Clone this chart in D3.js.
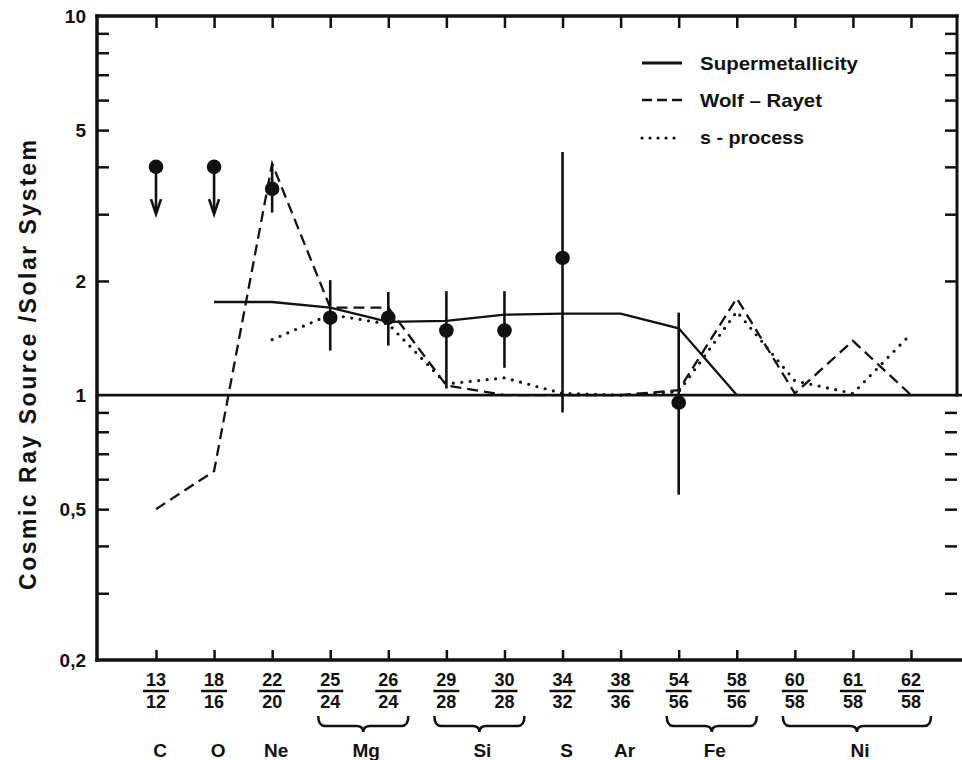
<!DOCTYPE html>
<html><head><meta charset="utf-8">
<script src="https://cdn.jsdelivr.net/npm/d3@7"></script>
<style>
body{margin:0;background:#fff}
svg{display:block}
text{font-family:"Liberation Sans",Arial,Helvetica,sans-serif;font-weight:bold;fill:#111}
</style>
</head><body>
<svg id="chart" width="962" height="760"></svg>
<script>
// ---------- data ----------
const numerators   = ["13","18","22","25","26","29","30","34","38","54","58","60","61","62"];
const denominators = ["12","16","20","24","24","28","28","32","36","56","56","58","58","58"];

const elements     = ["C","O","Ne","Mg","Si","S","Ar","Fe","Ni"];
const elementStart = [0,1,2,3,5,7,8,9,11];
const elementEnd   = [0,1,2,4,6,7,8,10,13];

const yMajorTicks  = [10,5,2,1,0.5,0.2];
const yMajorLabels = ["10","5","2","1","0,5","0,2"];
const yMinorTicks  = [9,8,7,6,4,3,0.9,0.8,0.7,0.6,0.4,0.3];

// measured cosmic-ray source / solar system ratios
const measIndex = [0,1,2,3,4,5,6,7,9];
const measValue = [4.0,4.0,3.5,1.60,1.60,1.48,1.48,2.30,0.955];
const measLow   = [null,null,3.03,1.31,1.35,1.04,1.18,0.90,0.546];
const measHigh  = [null,null,4.06,2.01,1.87,1.88,1.88,4.38,1.65];
const measLimitTo = [3.0,3.0,null,null,null,null,null,null,null]; // upper limits (arrows)

// model curves
const superIndex = [1,2,3,4,5,6,7,8,9,10];
const superValue = [1.76,1.76,1.70,1.56,1.57,1.63,1.64,1.64,1.50,1.0];

const wolfIndex = [0,1,2,3,4,5,6,7,8,9,10,11,12,13];
const wolfValue = [0.50,0.63,4.08,1.70,1.70,1.06,1.0,1.0,1.0,1.03,1.80,1.01,1.39,1.0];

const sprocIndex = [2,3,4,5,6,7,8,9,10,11,12,13];
const sprocValue = [1.40,1.63,1.54,1.07,1.11,1.01,1.0,1.02,1.66,1.09,1.01,1.45];

const legendLabels = ["Supermetallicity","Wolf \u2013 Rayet","s - process"];
const yTitle = "Cosmic Ray Source /Solar System";

// ---------- layout ----------
const X0 = 97, X1 = 957, Y0 = 16, Y1 = 660, XR = 962;
const svg = d3.select("#chart");
const ink = "#111";

const x = d3.scalePoint().domain(d3.range(numerators.length)).range([156, 911]);
const y = d3.scaleLog().domain([0.2, 10]).range([Y1, Y0]);

// ---------- axes ----------
function styleAxis(g){
  g.select(".domain").remove();
  g.selectAll(".tick line").attr("stroke", ink).attr("stroke-width", 2.5);
}
// left ticks
svg.append("g").attr("transform", `translate(${X0},0)`)
  .call(d3.axisLeft(y).tickValues(yMinorTicks.concat([5,2,0.5])).tickSize(-12).tickFormat(""))
  .call(styleAxis);
// left labels
const leftLab = svg.append("g").attr("transform", `translate(${X0},0)`)
  .call(d3.axisLeft(y).tickValues(yMajorTicks).tickSize(0).tickPadding(11)
        .tickFormat((d,i) => yMajorLabels[i]))
  .call(styleAxis);
leftLab.selectAll("text").attr("font-size", 19).attr("fill", ink)
  .style("font-family", '"Liberation Sans",Arial,sans-serif').style("font-weight","bold");

// right ticks
svg.append("g").attr("transform", `translate(${X1},0)`)
  .call(d3.axisRight(y).tickValues(yMinorTicks.concat([5,2,0.5])).tickSize(-12).tickFormat(""))
  .call(styleAxis);
// top ticks
svg.append("g").attr("transform", `translate(0,${Y0})`)
  .call(d3.axisTop(x).tickSize(-12).tickFormat(""))
  .call(styleAxis);
// bottom ticks
svg.append("g").attr("transform", `translate(0,${Y1})`)
  .call(d3.axisBottom(x).tickSize(-10).tickFormat(""))
  .call(styleAxis);

// frame lines
const frame = svg.append("g").attr("stroke", ink).attr("stroke-linecap","square");
frame.append("line").attr("x1",X0).attr("x2",X0).attr("y1",Y0).attr("y2",Y1).attr("stroke-width",3.5);
frame.append("line").attr("x1",X0).attr("x2",X1).attr("y1",Y0).attr("y2",Y0).attr("stroke-width",3.5);
frame.append("line").attr("x1",X0).attr("x2",XR).attr("y1",Y1).attr("y2",Y1).attr("stroke-width",3.5);
frame.append("line").attr("x1",X1).attr("x2",X1).attr("y1",Y0).attr("y2",y(1)).attr("stroke-width",3);
// reference line at ratio 1
frame.append("line").attr("x1",X0).attr("x2",XR).attr("y1",y(1)).attr("y2",y(1)).attr("stroke-width",2.8);

// ---------- x labels (isotope ratios) ----------
const xl = svg.append("g");
numerators.forEach((n,i) => {
  const cx = x(i);
  xl.append("text").attr("x",cx).attr("y",686).attr("text-anchor","middle").attr("font-size",18).text(n);
  xl.append("line").attr("x1",cx-13).attr("x2",cx+13).attr("y1",691).attr("y2",691)
    .attr("stroke",ink).attr("stroke-width",2.5);
  xl.append("text").attr("x",cx).attr("y",708).attr("text-anchor","middle").attr("font-size",18).text(denominators[i]);
});
// braces + element names
elements.forEach((el,k) => {
  const a = x(elementStart[k]), b = x(elementEnd[k]);
  const c = (a+b)/2 + (a===b ? 0 : 3);
  if (elementEnd[k] > elementStart[k]) {
    const l = a-12, r = b+20, t = 716, m = 726, tip = 732, cm = (l+r)/2;
    const p = `M${l},${t} Q${l},${m} ${l+7},${m} L${cm-7},${m} Q${cm},${m} ${cm},${tip} Q${cm},${m} ${cm+7},${m} L${r-7},${m} Q${r},${m} ${r},${t}`;
    xl.append("path").attr("d",p).attr("fill","none").attr("stroke",ink).attr("stroke-width",2.5);
  }
  xl.append("text").attr("x", c + 4).attr("y",757).attr("text-anchor","middle").attr("font-size",19).text(el);
});

// ---------- y title ----------
svg.append("text").attr("transform","translate(36,365) rotate(-90)")
  .attr("text-anchor","middle").attr("font-size",23)
  .attr("textLength",450).attr("lengthAdjust","spacing").text(yTitle);

// ---------- model curves ----------
const line = d3.line().x(d => x(d[0])).y(d => y(d[1]));
const plot = svg.append("g").attr("fill","none").attr("stroke",ink);
plot.append("path").datum(superIndex.map((d,i)=>[d,superValue[i]])).attr("d",line)
  .attr("stroke-width",2.3);
plot.append("path").datum(wolfIndex.map((d,i)=>[d,wolfValue[i]])).attr("d",line)
  .attr("stroke-width",2.3).attr("stroke-dasharray","11,6");
plot.append("path").datum(sprocIndex.map((d,i)=>[d,sprocValue[i]])).attr("d",line)
  .attr("stroke-width",3.2).attr("stroke-linecap","round").attr("stroke-dasharray","0,8.5");

// ---------- measurements ----------
const meas = svg.append("g").attr("stroke",ink).attr("fill",ink);
measIndex.forEach((idx,i) => {
  const cx = x(idx), cy = y(measValue[i]);
  if (measLow[i] !== null) {
    meas.append("line").attr("x1",cx).attr("x2",cx).attr("y1",y(measHigh[i])).attr("y2",y(measLow[i]))
      .attr("stroke-width",2.6);
  }
  if (measLimitTo[i] !== null) {
    const ye = y(measLimitTo[i]);
    meas.append("line").attr("x1",cx).attr("x2",cx).attr("y1",cy).attr("y2",ye-2).attr("stroke-width",2.6);
    meas.append("path").attr("d",`M${cx-5},${ye-15} L${cx},${ye} L${cx+5},${ye-15}`)
      .attr("fill","none").attr("stroke-width",2.6).attr("stroke-linejoin","miter");
  }
  meas.append("circle").attr("cx",cx).attr("cy",cy).attr("r",7.3).attr("stroke","none");
});

// ---------- legend ----------
const leg = svg.append("g");
const legY = [63, 100, 138];
const legDash = [null, "10,5", "0,8"];
const legW = [3, 2.5, 3.2];
const legText = [158, 122, 104];
legendLabels.forEach((t,i) => {
  const ln = leg.append("line").attr("x1",642).attr("x2",i===2?678:682).attr("y1",legY[i]).attr("y2",legY[i])
    .attr("stroke",ink).attr("stroke-width",legW[i]);
  if (legDash[i]) ln.attr("stroke-dasharray",legDash[i]);
  if (i===2) ln.attr("stroke-linecap","round");
  leg.append("text").attr("x",700).attr("y",legY[i]+ (i===2 ? 6 : 7)).attr("font-size",19)
    .attr("textLength",legText[i]).attr("lengthAdjust","spacingAndGlyphs").text(t);
});
</script>
</body></html>
